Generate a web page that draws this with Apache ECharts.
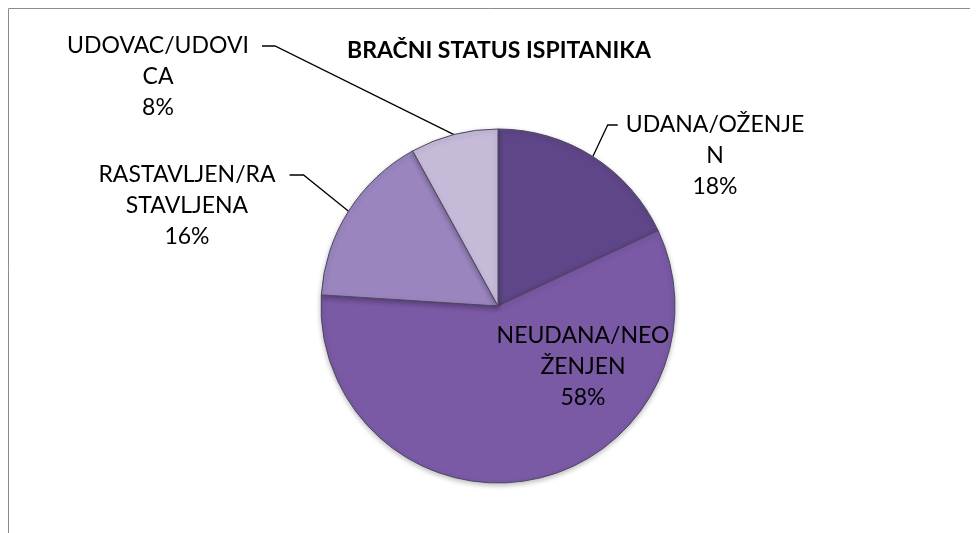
<!DOCTYPE html>
<html>
<head>
<meta charset="utf-8">
<script src="https://cdn.jsdelivr.net/npm/echarts@6/dist/echarts.min.js"></script>
<style>
  html, body { margin: 0; padding: 0; background: #fff; }
  #chart { width: 977px; height: 533px; }
</style>
</head>
<body>
<div id="chart"></div>
<script>
var categories = ['UDANA/OŽENJEN', 'NEUDANA/NEOŽENJEN', 'RASTAVLJEN/RASTAVLJENA', 'UDOVAC/UDOVICA'];
var values = [18, 58, 16, 8];
// where each label wraps (Excel breaks the text mid-word)
var wrapAt = [12, 11, 13, 12];
var colors = ['#5f4688', '#7a59a5', '#9a85bf', '#c5bbd9'];

// label centres; for the outside ones this is the first text line,
// where the leader line attaches
var labelPos = [[715, 125], [583, 367], [187, 175], [158, 46]];
var labelGap = [8, 0, 14, 13];
var leaderTail = [10, 0, 14, 13];

var data = categories.map(function (name, i) {
    var inside = i === 1;
    return {
        name: name,
        value: values[i],
        itemStyle: { color: colors[i] },
        label: { padding: [0, labelGap[i], 0, labelGap[i]] },
        labelLine: {
            show: !inside,
            length2: leaderTail[i]
        }
    };
});

var myChart = echarts.init(document.getElementById('chart'));
myChart.setOption({
    backgroundColor: '#fff',
    title: {
        text: 'BRAČNI STATUS ISPITANIKA',
        left: 494,
        top: 34,
        textAlign: 'center',
        textStyle: {
            fontFamily: 'Lato',
            fontWeight: 'bold',
            fontSize: 23,
            color: '#000'
        }
    },
    graphic: [{
        type: 'polyline',
        shape: { points: [[8.5, 533], [8.5, 8.5], [970, 8.5]] },
        style: { stroke: '#8c8c8c', lineWidth: 1, fill: null },
        silent: true
    }],
    series: [{
        type: 'pie',
        center: [498, 306],
        radius: 177,
        startAngle: 90,
        clockwise: true,
        emphasis: { disabled: true },
        animation: false,
        itemStyle: {
            borderColor: '#4e4860',
            borderWidth: 1,
            shadowColor: 'rgba(0,0,0,0.25)',
            shadowBlur: 5,
            shadowOffsetY: 2
        },
        label: {
            position: 'outside',
            fontFamily: 'Lato',
            fontSize: 23,
            lineHeight: 31,
            color: '#000',
            align: 'center',
            formatter: function (p) {
                var n = wrapAt[p.dataIndex];
                var text = p.name.slice(0, n) + '\n' + p.name.slice(n) + '\n' + p.value + '%';
                // two empty lines on top put the box middle on the first line
                return p.dataIndex === 1 ? text : '\n\n' + text;
            }
        },
        labelLine: {
            length: 20,
            lineStyle: { color: '#000', width: 1.3 }
        },
        labelLayout: function (params) {
            var pos = labelPos[params.dataIndex];
            return { x: pos[0], y: pos[1], align: 'center', verticalAlign: 'middle' };
        },
        data: data
    }]
});
</script>
</body>
</html>
